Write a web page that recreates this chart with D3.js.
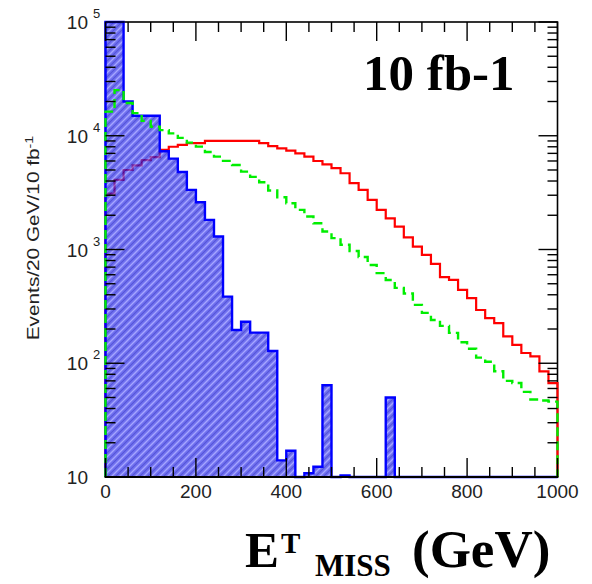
<!DOCTYPE html>
<html>
<head>
<meta charset="utf-8">
<script src="https://cdn.jsdelivr.net/npm/d3@7"></script>
<style>
  html, body { margin: 0; padding: 0; background: #fff; }
  svg { display: block; }
</style>
</head>
<body>
<svg id="chart" width="592" height="584"></svg>
<script>
// Missing transverse energy, 20 GeV bins, 10 fb-1
const binLow = [0, 20, 40, 60, 80, 100, 120, 140, 160, 180,
                200, 220, 240, 260, 280, 300, 320, 340, 360, 380,
                400, 420, 440, 460, 480, 500, 520, 540, 560, 580,
                600, 620, 640, 660, 680, 700, 720, 740, 760, 780,
                800, 820, 840, 860, 880, 900, 920, 940, 960, 980];
const binWidth = 20;

// solid red histogram
const seriesRed = [3100, 4100, 5000, 5500, 6100, 6500, 7500, 8000, 8300, 8600,
                   8600, 9000, 9000, 9000, 9000, 9000, 9000, 8600, 8100, 7760,
                   7400, 7000, 6550, 6000, 5600, 5200, 4680, 3830, 3340, 2730,
                   2230, 1880, 1590, 1280, 1060, 898, 747, 571, 541, 442,
                   373, 294, 249, 225, 172, 145, 123, 115, 85, 67];

// dashed green histogram
const seriesGreen = [16300, 25200, 19400, 15800, 13500, 12000, 11200, 10500, 9570, 8700,
                     8020, 7200, 6550, 6010, 5540, 4840, 4350, 3900, 3300, 2880,
                     2550, 2230, 1950, 1700, 1440, 1260, 1100, 970, 860, 730,
                     620, 540, 460, 410, 326, 277, 240, 213, 185, 153,
                     134, 112, 103, 85, 70, 67, 56, 48, 47, 46];

// hatched blue histogram
const seriesBlue = [150000, 120000, 20000, 15000, 15000, 15000, 7300, 6300, 4800, 3340,
                    2600, 1820, 1300, 385, 196, 232, 186, 186, 128, 14,
                    17, 0, 10.8, 12.3, 64, 0, 10.3, 0, 0, 0,
                    0, 50, 0, 0, 0, 0, 0, 0, 0, 0,
                    0, 0, 0, 0, 0, 0, 0, 0, 0, 0];

const xTickValues = [0, 200, 400, 600, 800, 1000];
const xTickLabels = ["0", "200", "400", "600", "800", "1000"];
const yDecades = [1, 2, 3, 4, 5];

const svg = d3.select("#chart");
const plot = { left: 105.5, right: 557.5, top: 22, bottom: 477 };

const x = d3.scaleLinear().domain([0, 1000]).range([plot.left, plot.right]);
const y = d3.scaleLog().domain([10, 1e5]).range([plot.bottom, plot.top]);

function yc(v) {
  if (!(v > 0)) return plot.bottom;
  return Math.max(plot.top, Math.min(plot.bottom, y(v)));
}

function histPath(vals, close) {
  const p = d3.path();
  p.moveTo(x(binLow[0]), plot.bottom);
  vals.forEach((v, i) => {
    const yy = yc(v);
    p.lineTo(x(binLow[i]), yy);
    p.lineTo(x(binLow[i] + binWidth), yy);
  });
  p.lineTo(x(binLow[binLow.length - 1] + binWidth), plot.bottom);
  if (close) p.closePath();
  return p.toString();
}

// hatch fill for the blue histogram
const defs = svg.append("defs");
const pat = defs.append("pattern")
  .attr("id", "hatch")
  .attr("patternUnits", "userSpaceOnUse")
  .attr("width", 8).attr("height", 8);
pat.append("rect").attr("width", 8).attr("height", 8).attr("fill", "#3434ea");
pat.append("path")
  .attr("d", "M-1,9 L9,-1 M-1,1 L1,-1 M7,9 L9,7")
  .attr("stroke", "#0a0ac8").attr("stroke-width", 1.1);
pat.append("path")
  .attr("d", "M-1,5 L5,-1 M3,9 L9,3")
  .attr("stroke", "#8080ff").attr("stroke-width", 1.3);

// frame
svg.append("rect")
  .attr("x", plot.left).attr("y", plot.top)
  .attr("width", plot.right - plot.left).attr("height", plot.bottom - plot.top)
  .attr("fill", "none").attr("stroke", "#000").attr("stroke-width", 1.6);

// red histogram
svg.append("path")
  .attr("d", histPath(seriesRed, false))
  .attr("fill", "none").attr("stroke", "#ff0000").attr("stroke-width", 2.2);

// blue hatched histogram
svg.append("path")
  .attr("d", histPath(seriesBlue, true))
  .attr("fill", "url(#hatch)").attr("opacity", 0.7);
svg.append("path")
  .attr("d", histPath(seriesBlue, false))
  .attr("fill", "none").attr("stroke", "#0000ff").attr("stroke-width", 2.4);

// green dashed histogram
svg.append("path")
  .attr("d", histPath(seriesGreen, false))
  .attr("fill", "none").attr("stroke", "#00ee00").attr("stroke-width", 2.4)
  .attr("stroke-dasharray", "9,5");

// ticks
const tickG = svg.append("g").attr("stroke", "#000").attr("stroke-width", 1.4);
x.ticks(20).forEach(v => {
  const major = v % 200 === 0;
  const len = major ? 19 : 10;
  const px = x(v);
  tickG.append("line").attr("x1", px).attr("x2", px)
    .attr("y1", plot.bottom).attr("y2", plot.bottom - len);
  tickG.append("line").attr("x1", px).attr("x2", px)
    .attr("y1", plot.top).attr("y2", plot.top + len);
});
y.ticks().forEach(v => {
  const lg = Math.log10(v);
  const major = Math.abs(lg - Math.round(lg)) < 1e-9;
  const len = major ? 19 : 10;
  const py = y(v);
  tickG.append("line").attr("x1", plot.left).attr("x2", plot.left + len)
    .attr("y1", py).attr("y2", py);
  tickG.append("line").attr("x1", plot.right).attr("x2", plot.right - len)
    .attr("y1", py).attr("y2", py);
});
// bottom axis line over the histograms
svg.append("line")
  .attr("x1", plot.left - 0.8).attr("x2", plot.right + 0.8)
  .attr("y1", plot.bottom).attr("y2", plot.bottom)
  .attr("stroke", "#000").attr("stroke-width", 2);

// tick labels
const labelFont = "'Liberation Sans', Arial, Helvetica, sans-serif";
xTickValues.forEach((v, i) => {
  svg.append("text")
    .attr("x", x(v)).attr("y", 498)
    .attr("text-anchor", "middle")
    .attr("font-family", labelFont).attr("font-size", 19)
    .attr("fill", "#222")
    .text(xTickLabels[i]);
});
yDecades.forEach(d => {
  const py = y(Math.pow(10, d));
  svg.append("text")
    .attr("x", 88).attr("y", py + 7)
    .attr("text-anchor", "end")
    .attr("font-family", labelFont).attr("font-size", 19)
    .attr("fill", "#222")
    .text("10");
  if (d > 1) {
    svg.append("text")
      .attr("x", 93).attr("y", py - 4)
      .attr("font-family", labelFont).attr("font-size", 13)
      .attr("fill", "#222")
      .text(String(d));
  }
});

// y axis title
const yTitle = svg.append("text")
  .attr("transform", "translate(39,238) rotate(-90) scale(1.3,1)")
  .attr("text-anchor", "middle")
  .attr("font-family", labelFont).attr("font-size", 16)
  .attr("fill", "#222");
yTitle.append("tspan").text("Events/20 GeV/10 fb");
yTitle.append("tspan").attr("dy", -6).attr("font-size", 11).text("-1");

// luminosity label
const serif = "'Liberation Serif', 'Times New Roman', Times, serif";
svg.append("text")
  .attr("x", 363).attr("y", 90)
  .attr("font-family", serif).attr("font-weight", "bold").attr("font-size", 51)
  .attr("fill", "#000")
  .text("10 fb-1");

// x axis title
const xt = svg.append("g").attr("font-family", serif).attr("font-weight", "bold").attr("fill", "#000");
xt.append("text").attr("x", 245).attr("y", 567).attr("font-size", 51).text("E");
xt.append("text").attr("x", 281).attr("y", 553).attr("font-size", 29).text("T");
xt.append("text").attr("x", 315).attr("y", 576).attr("font-size", 31).text("MISS");
xt.append("text").attr("x", 412).attr("y", 567).attr("font-size", 53).text("(GeV)");
</script>
</body>
</html>
